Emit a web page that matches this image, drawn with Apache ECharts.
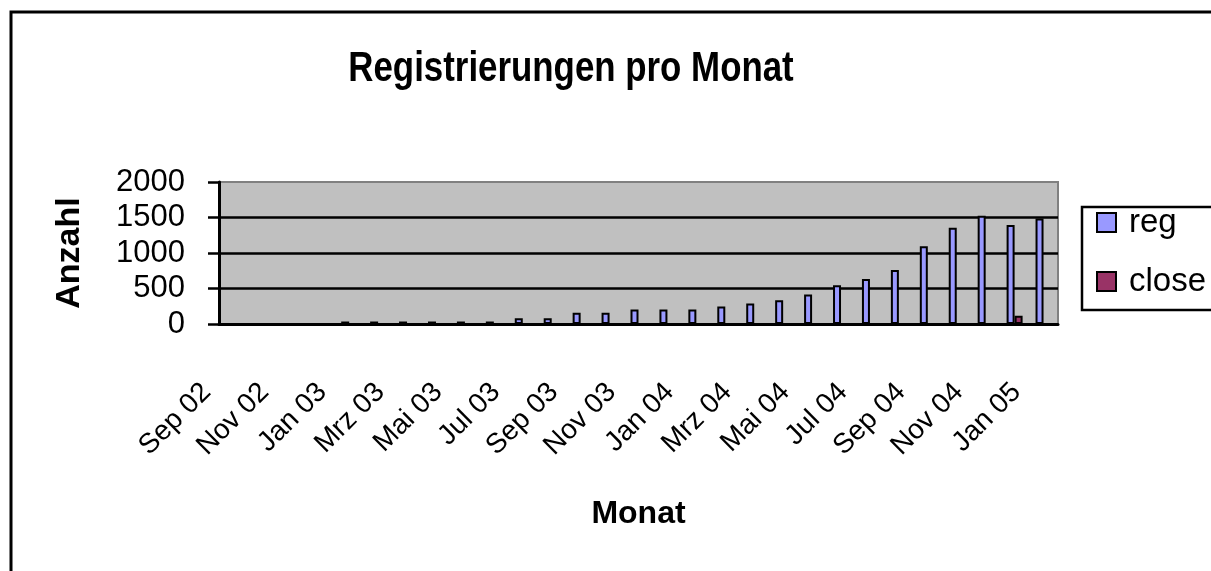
<!DOCTYPE html>
<html><head><meta charset="utf-8">
<script src="https://cdn.jsdelivr.net/npm/echarts@6/dist/echarts.min.js"></script>
<style>html,body{margin:0;padding:0;background:#fff}#c{width:1211px;height:571px}</style>
</head><body><div id="c"></div>
<script>
const months = ['Sep 02','Okt 02','Nov 02','Dez 02','Jan 03','Feb 03','Mrz 03','Apr 03','Mai 03','Jun 03','Jul 03','Aug 03','Sep 03','Okt 03','Nov 03','Dez 03','Jan 04','Feb 04','Mrz 04','Apr 04','Mai 04','Jun 04','Jul 04','Aug 04','Sep 04','Okt 04','Nov 04','Dez 04','Jan 05'];
const regValues = [0,0,0,0,35,35,35,35,35,35,80,80,160,160,205,205,205,245,290,335,415,545,635,760,1095,1355,1525,1395,1485];
const closeValues = [0,0,0,0,0,0,0,0,0,0,0,0,0,0,0,0,0,0,0,0,0,0,0,0,0,0,0,115,0];
const yMin = 0, yMax = 2000, yStep = 500;

const FONT = '"Liberation Sans", Arial, sans-serif';
const chart = echarts.init(document.getElementById('c'), null, {renderer: 'canvas'});
chart.setOption({
  animation: false,
  backgroundColor: '#ffffff',
  textStyle: {fontFamily: FONT, color: '#000'},
  graphic: [
    {type: 'rect', shape: {x: 11, y: 12, width: 1240, height: 620}, style: {fill: 'none', stroke: '#000', lineWidth: 3}},
    {type: 'rect', shape: {x: 1082, y: 207, width: 200, height: 103}, style: {fill: '#fff', stroke: '#000', lineWidth: 2.5}},
    {type: 'text', x: 571, y: 69, scaleX: 0.83, style: {text: 'Registrierungen pro Monat', fontSize: 42, fontWeight: 'bold',
      fontFamily: FONT, fill: '#000',
      textAlign: 'center', textVerticalAlign: 'middle', align: 'center', verticalAlign: 'middle'}}
  ],
  legend: {
    data: ['reg', 'close'], orient: 'vertical', left: 1096, top: 206, padding: 0,
    itemWidth: 19, itemHeight: 19, itemGap: 26, icon: 'rect',
    itemStyle: {borderColor: '#000', borderWidth: 2},
    textStyle: {fontSize: 33, color: '#000', padding: [0, 0, 0, 8]}
  },
  grid: {left: 219, top: 182, right: 153, bottom: 247, show: true, backgroundColor: '#C0C0C0', borderColor: '#808080', borderWidth: 2},
  xAxis: {
    type: 'category', data: months, boundaryGap: true,
    name: 'Monat', nameLocation: 'middle', nameGap: 174,
    nameTextStyle: {fontSize: 32, fontWeight: 'bold', color: '#000'},
    axisLine: {lineStyle: {color: '#000', width: 3}},
    axisTick: {interval: 1, length: 12, lineStyle: {color: '#000', width: 2.5}},
    axisLabel: {interval: 1, rotate: 45, fontSize: 28, margin: 37, padding: [0, 38, 0, 0], color: '#000'},
    splitLine: {show: false}
  },
  yAxis: {
    type: 'value', min: yMin, max: yMax, interval: yStep,
    name: 'Anzahl', nameLocation: 'middle', nameRotate: 90, nameGap: 132,
    nameTextStyle: {fontSize: 34, fontWeight: 'bold', color: '#000'},
    axisLine: {show: true, lineStyle: {color: '#000', width: 3}},
    axisTick: {show: true, length: 11, lineStyle: {color: '#000', width: 2.5}},
    axisLabel: {fontSize: 31, margin: 34, color: '#000', formatter: v => String(v)},
    splitLine: {show: true, showMaxLine: false, lineStyle: {color: '#000', width: 2.5}}
  },
  series: [
    {name: 'reg', type: 'bar', data: regValues, barWidth: 8, barGap: '0%',
     itemStyle: {color: '#9999FF', borderColor: '#000', borderWidth: 2}},
    {name: 'close', type: 'bar', data: closeValues, barWidth: 8, barGap: '0%',
     itemStyle: {color: '#993366', borderColor: '#000', borderWidth: 2}}
  ]
});
</script></body></html>
